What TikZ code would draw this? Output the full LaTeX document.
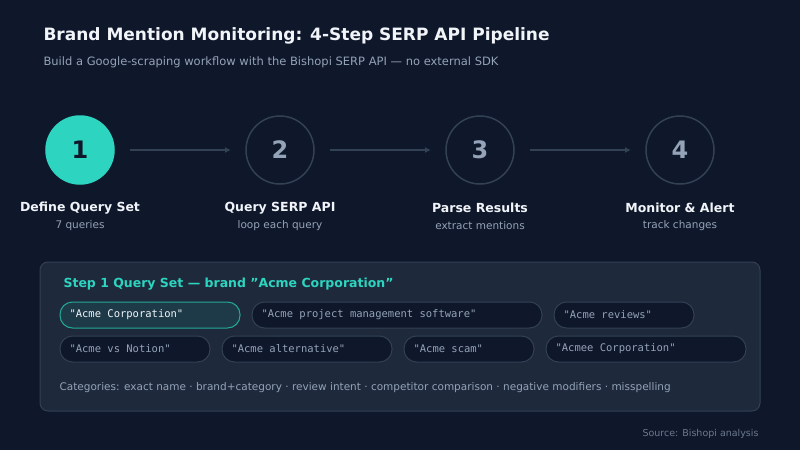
\documentclass[tikz,border=0pt]{standalone}
\usepackage{fontspec}
\usetikzlibrary{arrows.meta}
\setmainfont{DejaVu Sans}
\setmonofont{DejaVu Sans Mono}
\definecolor{bg}{HTML}{0F172A}
\definecolor{panel}{HTML}{1E293B}
\definecolor{edge}{HTML}{334155}
\definecolor{teal}{HTML}{2DD4BF}
\definecolor{muted}{HTML}{94A3B8}
\definecolor{pill}{HTML}{0F172A}
\definecolor{pillon}{HTML}{1E3A48}
\definecolor{txt}{HTML}{F1F5F9}
\definecolor{pilltxt}{HTML}{94A3B8}
\begin{document}
\begin{tikzpicture}[x=1pt,y=-1pt,
  stepc/.style={circle,minimum size=68pt,inner sep=0,draw=edge,line width=1.5pt,fill=bg,text=muted,font=\fontsize{24}{28}\selectfont\bfseries},
  lab/.style={text=txt,font=\fontsize{12.5}{15}\selectfont\bfseries},
  sub/.style={text=muted,font=\fontsize{10.5}{13}\selectfont},
  arr/.style={draw=edge,line width=1.5pt,-{Latex[length=6pt,width=6pt]}},
  pl/.style={draw=edge,fill=pill,line width=1pt,rounded corners=12.5pt},
  pt/.style={anchor=west,text=pilltxt,font=\ttfamily\fontsize{10.5}{13}\selectfont}]
\useasboundingbox (0,0) rectangle (800,450);
\fill[bg] (0,0) rectangle (800,450);
\node[anchor=west,text=txt,font=\fontsize{17}{20}\selectfont\bfseries] (t) at (40,36) {Brand Mention Monitoring: 4-Step SERP API Pipeline};
\node[anchor=west,text=muted,font=\fontsize{11.5}{14}\selectfont] (st) at (40,62) {Build a Google-scraping workflow with the Bishopi SERP API — no external SDK};
\node[stepc,fill=teal,draw=teal,text=bg] (s1) at (80,150) {1};
\node[stepc] (s2) at (280,150) {2};
\node[stepc] (s3) at (480,150) {3};
\node[stepc] (s4) at (680,150) {4};
\coordinate (a1) at (130,150); \coordinate (b1) at (231,150);
\coordinate (a2) at (330,150); \coordinate (b2) at (431,150);
\coordinate (a3) at (530,150); \coordinate (b3) at (631,150);
\draw[arr] (a1)--(b1); \draw[arr] (a2)--(b2); \draw[arr] (a3)--(b3);
\node[lab] (l1) at (80,208) {Define Query Set}; \node[sub] (u1) at (80,226) {7 queries};
\node[lab] (l2) at (280,208) {Query SERP API}; \node[sub] (u2) at (280,226) {loop each query};
\node[lab] (l3) at (480,208) {Parse Results}; \node[sub] (u3) at (480,226) {extract mentions};
\node[lab] (l4) at (680,208) {Monitor \& Alert}; \node[sub] (u4) at (680,226) {track changes};
\draw[edge,fill=panel,line width=1pt,rounded corners=8pt] (40,262) rectangle (760,411);
\node[anchor=west,text=teal,font=\fontsize{12.5}{15}\selectfont\bfseries] (h) at (60,284) {Step 1 Query Set — brand "Acme Corporation"};
\draw[pl,draw=teal!80!black,fill=pillon] (60,302) rectangle (240,328);
\node[pt,text=txt] (p1) at (66,315) {"Acme Corporation"};
\draw[pl] (252,302) rectangle (542,328); \node[pt] (p2) at (258,315) {"Acme project management software"};
\draw[pl] (554,302) rectangle (694,328); \node[pt] (p3) at (560,315) {"Acme reviews"};
\draw[pl] (60,336) rectangle (210,362); \node[pt] (p4) at (66,349) {"Acme vs Notion"};
\draw[pl] (222,336) rectangle (392,362); \node[pt] (p5) at (228,349) {"Acme alternative"};
\draw[pl] (404,336) rectangle (534,362); \node[pt] (p6) at (410,349) {"Acme scam"};
\draw[pl] (546,336) rectangle (746,362); \node[pt] (p7) at (552,349) {"Acmee Corporation"};
\node[anchor=west,text=muted,font=\fontsize{10.5}{13}\selectfont] (c) at (56,388) {Categories: exact name · brand+category · review intent · competitor comparison · negative modifiers · misspelling};
\node[anchor=east,text=muted!70!bg,font=\fontsize{9.5}{12}\selectfont] (src) at (762,434) {Source: Bishopi analysis};
\end{tikzpicture}
\end{document}
